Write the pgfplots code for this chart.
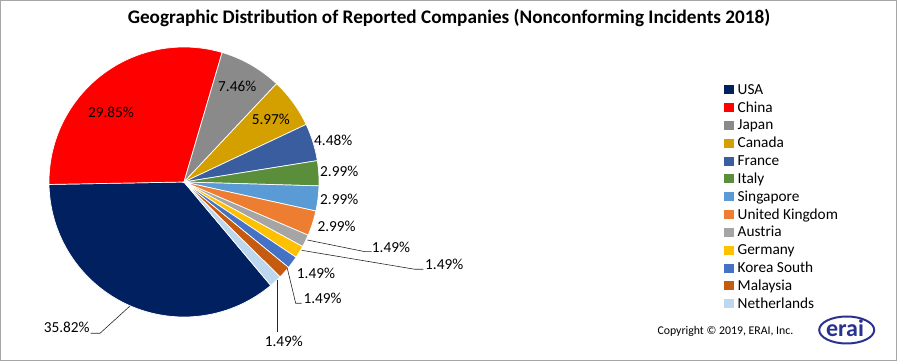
\documentclass[border=0pt]{standalone}
\usepackage{pgfplots}
\pgfplotsset{compat=1.18}
\usepackage{pgfplotstable}
\usepackage{fontspec}
\setmainfont{Carlito}
\definecolor{cUSA}{HTML}{002060}
\definecolor{cChina}{HTML}{FF0000}
\definecolor{cJapan}{HTML}{8A8A8A}
\definecolor{cCanada}{HTML}{D4A000}
\definecolor{cFrance}{HTML}{3A5DA0}
\definecolor{cItaly}{HTML}{5A8E3B}
\definecolor{cSingapore}{HTML}{5B9BD5}
\definecolor{cUK}{HTML}{ED7D31}
\definecolor{cAustria}{HTML}{A5A5A5}
\definecolor{cGermany}{HTML}{FFC000}
\definecolor{cKorea}{HTML}{4472C4}
\definecolor{cMalaysia}{HTML}{C55A11}
\definecolor{cNetherlands}{HTML}{BDD7EE}
\definecolor{logoBlue}{HTML}{28338F}
\pgfplotstableread[col sep=comma]{
name,value,col
USA,35.82,cUSA
China,29.85,cChina
Japan,7.46,cJapan
Canada,5.97,cCanada
France,4.48,cFrance
Italy,2.99,cItaly
Singapore,2.99,cSingapore
United Kingdom,2.99,cUK
Austria,1.49,cAustria
Germany,1.49,cGermany
Korea South,1.49,cKorea
Malaysia,1.49,cMalaysia
Netherlands,1.49,cNetherlands
}\pietable
\begin{document}
\begin{tikzpicture}[x=1pt,y=1pt]
\useasboundingbox (0,0) rectangle (897,361);
\draw[gray!70, line width=0.9pt] (0.45,0.45) rectangle (896.55,360.55);
\begin{axis}[
  at={(184pt,179pt)}, anchor=origin,
  scale only axis, width=270pt, height=270pt,
  xmin=-1, xmax=1, ymin=-1, ymax=1,
  hide axis, clip=false,
  legend style={at={(2.5,0.8659)}, anchor=north west, draw=none, fill=none,
    inner sep=0pt, outer sep=0pt,
    font=\fontsize{15.3}{18}\selectfont, row sep=2.83pt, column sep=3.7pt,
    nodes={inner sep=0pt, text height=11pt, text depth=4pt}},
  legend cell align=left,
  legend image code/.code={\fill[#1, draw=none] (0pt,-3.5pt) rectangle (10pt,5.5pt);},
]
\def\cum{310}
\pgfplotsforeachungrouped \i in {0,...,12}{%
  \pgfplotstablegetelem{\i}{value}\of\pietable \let\v\pgfplotsretval
  \pgfplotstablegetelem{\i}{col}\of\pietable \let\c\pgfplotsretval
  \pgfplotstablegetelem{\i}{name}\of\pietable \let\n\pgfplotsretval
  \pgfmathsetmacro\b{\cum-3.6*\v}%
  \edef\tmp{\noexpand\addplot[fill=\c, draw=white, line width=0.7pt, domain=\b:\cum, samples=100] ({cos(x)},{sin(x)}) -- (axis cs:0,0) -- cycle; \noexpand\addlegendentry{\n}}%
  \tmp
  \global\let\cum\b
}
\end{axis}
% title
\node[font=\bfseries\fontsize{19.2}{21}\selectfont] at (449,343) {Geographic Distribution of Reported Companies (Nonconforming Incidents 2018)};
% data labels
\begin{scope}[every node/.style={inner sep=0pt, font=\fontsize{15.3}{18}\selectfont}]
\node at (66.7,33.3) {35.82\%};
\node at (111,248.3) {29.85\%};
\node at (237.2,274.3) {7.46\%};
\node at (270.8,241.7) {5.97\%};
\node[anchor=west] at (314,220.3) {4.48\%};
\node[anchor=west] at (320,190) {2.99\%};
\node[anchor=west] at (320,161.5) {2.99\%};
\node[anchor=west] at (317.3,134.3) {2.99\%};
\node[anchor=west] at (371.7,113.3) {1.49\%};
\node[anchor=west] at (425,96.7) {1.49\%};
\node[anchor=west] at (296.7,87.7) {1.49\%};
\node[anchor=west] at (303.3,62.7) {1.49\%};
\node at (283.8,19.3) {1.49\%};
\end{scope}
% leader lines
\begin{scope}[black!85, line width=0.6pt]
\draw (130,55) -- (100,27.7) -- (90.7,27.7);
\draw (307.3,121) -- (365,109.3) -- (371.7,109.3);
\draw (301.7,110.7) -- (415,91.7) -- (423.3,91.7);
\draw (287.3,92.7) -- (295.7,57.7) -- (301.7,57.7);
\draw (277.7,81) -- (277.7,29.3);
\end{scope}
% copyright and logo
\node[anchor=west, inner sep=0pt, font=\fontsize{11.8}{13}\selectfont] at (657.3,30) {Copyright \textcopyright{} 2019, ERAI, Inc.};
\draw[logoBlue, line width=2pt] (846.7,31) ellipse (27.5 and 13.5);
\node[logoBlue, inner sep=0pt, font=\bfseries\fontsize{24}{24}\selectfont] at (845,33) {erai};
\end{tikzpicture}
\end{document}
